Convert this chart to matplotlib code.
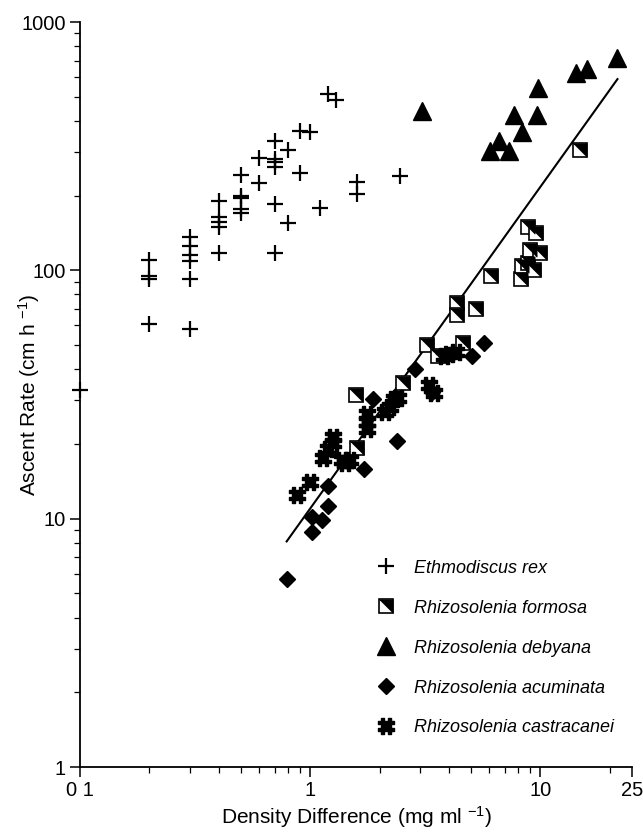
import matplotlib
matplotlib.use('Agg')
import matplotlib.pyplot as plt
from matplotlib.ticker import FixedLocator, NullFormatter
from matplotlib.legend_handler import HandlerTuple

plt.rcParams['font.family'] = ['Liberation Sans', 'DejaVu Sans']
plt.rcParams['mathtext.default'] = 'regular'

# Ethmodiscus rex
rex_x = [0.1, 0.2, 0.2, 0.2, 0.2,
         0.3, 0.3, 0.3, 0.3, 0.3, 0.3,
         0.4, 0.4, 0.4, 0.4, 0.4,
         0.5, 0.5, 0.5, 0.5, 0.5,
         0.6, 0.6,
         0.7, 0.7, 0.7, 0.7, 0.7, 0.7,
         0.8, 0.8, 0.9, 0.9, 1.0, 1.1, 1.2, 1.3, 1.6, 1.6, 2.45]
rex_y = [33, 110, 95, 92, 61,
         136, 125, 115, 109, 92, 58,
         190, 164, 156, 149, 118,
         242, 199, 196, 176, 171,
         283, 224,
         331, 280, 273, 260, 185, 117,
         305, 155, 363, 246, 360, 179, 512, 485, 226, 203, 240]

# Rhizosolenia formosa
formosa_x = [1.58, 1.6, 2.54, 3.2, 3.6, 4.35, 4.35, 4.6, 5.27, 6.1,
             8.2, 8.3, 8.8, 9.05, 8.8, 9.6, 9.4, 10.0, 14.9]
formosa_y = [31.6, 19.3, 35.3, 50, 45, 74, 66, 51, 70, 95,
             92, 104, 107, 121, 150, 142, 100, 118, 305]

# Rhizosolenia debyana
debyana_x = [3.07, 6.06, 6.6, 7.3, 7.7, 8.35, 9.7, 9.8, 14.3, 15.85, 21.6]
debyana_y = [438, 302, 331, 302, 422, 360, 422, 542, 623, 646, 716]

# Rhizosolenia acuminata
acum_x = [0.79, 1.02, 1.02, 1.12, 1.2, 1.2, 1.72, 1.88, 2.39, 2.86, 3.39, 5.06, 5.7]
acum_y = [5.7, 8.8, 10.2, 9.9, 11.2, 13.5, 15.8, 30.2, 20.6, 40, 32.5, 45, 51]

# Rhizosolenia castracanei
cast_x = [0.88, 1.0, 1.14, 1.2, 1.25, 1.25, 1.38, 1.42, 1.49, 1.77, 1.77, 1.77,
          2.12, 2.23, 2.3, 2.41, 3.29, 3.45, 3.8, 4.0, 4.3]
cast_y = [12.5, 14, 17.6, 19, 20.2, 21.4, 17.3, 16.8, 17.3, 23, 24.6, 26.3,
          27, 28.3, 30.2, 30.7, 34.7, 32, 45, 46, 47]

# regression line end points
fit_x = [0.79, 21.6]
fit_y = [8.1, 589]

x_ticks = [0.1, 1, 10, 25]
x_labels = ['0 1', '1', '10', '25']
y_ticks = [1, 10, 100, 1000]
y_labels = ['1', '10', '100', '1000']

hash_verts = [(-0.6, 1), (-0.2, 1), (-0.2, 0.6), (0.2, 0.6), (0.2, 1), (0.6, 1),
              (0.6, 0.6), (1, 0.6), (1, 0.2), (0.6, 0.2), (0.6, -0.2), (1, -0.2),
              (1, -0.6), (0.6, -0.6), (0.6, -1), (0.2, -1), (0.2, -0.6), (-0.2, -0.6),
              (-0.2, -1), (-0.6, -1), (-0.6, -0.6), (-1, -0.6), (-1, -0.2), (-0.6, -0.2),
              (-0.6, 0.2), (-1, 0.2), (-1, 0.6), (-0.6, 0.6), (-0.6, 1)]
half_tri = [(-1, 1), (1, 1), (1, -1), (-1, 1)]

fig = plt.figure(figsize=(6.43, 8.38), dpi=100)
ax = fig.add_axes([0.1244, 0.0847, 0.8586, 0.889])

ax.plot(fit_x, fit_y, color='black', lw=1.5, zorder=1)

h_rex, = ax.plot(rex_x, rex_y, ls='none', marker='+', ms=12, mew=1.6,
                 color='black', clip_on=False, zorder=3)
h_fsq, = ax.plot(formosa_x, formosa_y, ls='none', marker='s', ms=9.5,
                 mfc='white', mec='black', mew=1.2, zorder=3)
h_ftri, = ax.plot(formosa_x, formosa_y, ls='none', marker=half_tri, ms=9.5,
                  mfc='black', mec='black', mew=0.5, zorder=3)
h_deb, = ax.plot(debyana_x, debyana_y, ls='none', marker='^', ms=13,
                 color='black', zorder=3)
h_acu, = ax.plot(acum_x, acum_y, ls='none', marker='D', ms=8,
                 color='black', zorder=3)
h_cas, = ax.plot(cast_x, cast_y, ls='none', marker=hash_verts, ms=11,
                 color='black', zorder=3)

ax.set_xscale('log')
ax.set_yscale('log')
ax.set_xlim(0.1, 25)
ax.set_ylim(1, 1000)

ax.spines['top'].set_visible(False)
ax.spines['right'].set_visible(False)
ax.spines['left'].set_linewidth(1.3)
ax.spines['bottom'].set_linewidth(1.3)

ax.xaxis.set_major_locator(FixedLocator(x_ticks))
ax.set_xticklabels(x_labels)
ax.xaxis.set_minor_locator(FixedLocator([0.2, 0.3, 0.4, 0.5, 0.6, 0.7, 0.8, 0.9,
                                         2, 3, 4, 5, 6, 7, 8, 9, 20]))
ax.xaxis.set_minor_formatter(NullFormatter())
ax.yaxis.set_major_locator(FixedLocator(y_ticks))
ax.set_yticklabels(y_labels)
ax.yaxis.set_minor_locator(FixedLocator([m * d for d in (1, 10, 100)
                                         for m in range(2, 10)]))
ax.yaxis.set_minor_formatter(NullFormatter())
ax.tick_params(which='major', direction='out', length=7, width=1.1,
               labelsize=14.5, pad=3)
ax.tick_params(which='minor', direction='out', length=4, width=0.9)

ax.set_xlabel('Density Difference (mg ml $^{-1}$)', fontsize=15)
ax.xaxis.set_label_coords(0.5, -0.05)
ax.set_ylabel('Ascent Rate (cm h $^{-1}$)', fontsize=15)
ax.yaxis.set_label_coords(-0.068, 0.5)

ax.legend([h_rex, (h_fsq, h_ftri), h_deb, h_acu, h_cas],
          ['Ethmodiscus rex', 'Rhizosolenia formosa', 'Rhizosolenia debyana',
           'Rhizosolenia acuminata', 'Rhizosolenia castracanei'],
          handler_map={tuple: HandlerTuple(ndivide=1, pad=0)},
          loc='upper left', bbox_to_anchor=(0.50, 0.30), frameon=False,
          numpoints=1, labelspacing=1.27, handletextpad=0.8, handlelength=1.5,
          prop={'style': 'italic', 'size': 13})

fig.savefig('out.png', dpi=100)
